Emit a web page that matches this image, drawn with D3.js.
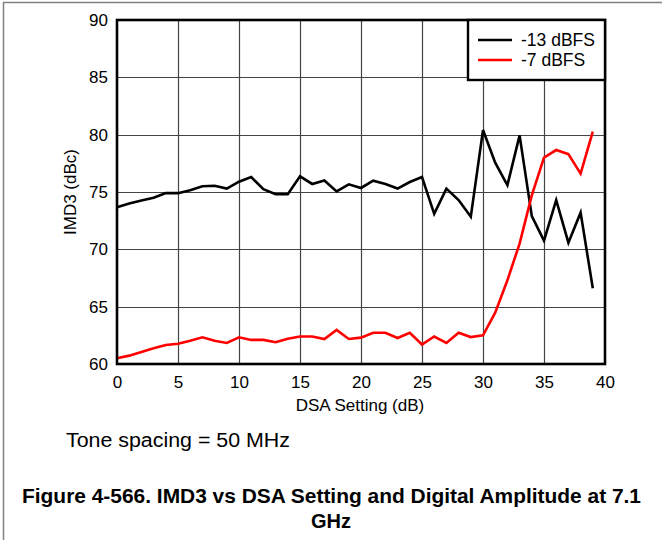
<!DOCTYPE html>
<html>
<head>
<meta charset="utf-8">
<script src="https://cdn.jsdelivr.net/npm/d3@7"></script>
<style>
  body { margin: 0; background: #fff; }
  svg { display: block; }
  text { font-family: "Liberation Sans", Arial, sans-serif; }
</style>
</head>
<body>
<svg id="chart" width="662" height="540"></svg>
<script>
const dsa = d3.range(0, 40);
const seriesNames = ["-13 dBFS", "-7 dBFS"];
const seriesColors = ["#000000", "#ff0000"];
const imd3_m13 = [73.67, 74.0, 74.25, 74.5, 74.9, 74.9, 75.15, 75.5, 75.55, 75.3,
                  75.9, 76.3, 75.25, 74.8, 74.8, 76.37, 75.7, 76.0, 75.05, 75.67,
                  75.35, 75.99, 75.7, 75.3, 75.87, 76.3, 73.1, 75.3, 74.3, 72.85,
                  80.4, 77.56, 75.6, 79.94, 72.9, 70.76, 74.3, 70.58, 73.2, 66.6];
const imd3_m7 = [60.5, 60.73, 61.05, 61.37, 61.66, 61.77, 62.03, 62.33, 62.03, 61.83,
                 62.33, 62.1, 62.1, 61.9, 62.2, 62.4, 62.4, 62.18, 62.97, 62.18,
                 62.3, 62.73, 62.73, 62.27, 62.73, 61.7, 62.4, 61.83, 62.73, 62.35,
                 62.5, 64.48, 67.3, 70.5, 74.7, 78.0, 78.66, 78.3, 76.6, 80.26];
const xTicks = [0, 5, 10, 15, 20, 25, 30, 35, 40];
const yTicks = [60, 65, 70, 75, 80, 85, 90];
const xLabel = "DSA Setting (dB)";
const yLabel = "IMD3 (dBc)";
const note = "Tone spacing = 50 MHz";
const titleLines = ["Figure 4-566. IMD3 vs DSA Setting and Digital Amplitude at 7.1", "GHz"];

const svg = d3.select("#chart");
const L = 117, R = 605, T = 20, B = 364;
const x = d3.scaleLinear().domain([0, 40]).range([L, R]);
const y = d3.scaleLinear().domain([60, 90]).range([B, T]);

// outer frame
svg.append("path").attr("d", "M3.5,540 L3.5,2.5 L662,2.5")
  .attr("fill", "none").attr("stroke", "#808080").attr("stroke-width", 1.5);

// grid
const g = svg.append("g");
g.selectAll(".vg").data(xTicks.slice(1, -1)).join("line")
  .attr("x1", d => Math.round(x(d)) + 0.5).attr("x2", d => Math.round(x(d)) + 0.5)
  .attr("y1", T).attr("y2", B).attr("stroke", "#444").attr("stroke-width", 1.2);
g.selectAll(".hg").data(yTicks.slice(1, -1)).join("line")
  .attr("y1", d => Math.round(y(d)) + 0.5).attr("y2", d => Math.round(y(d)) + 0.5)
  .attr("x1", L).attr("x2", R).attr("stroke", "#444").attr("stroke-width", 1.2);

// axes labels via d3 axes
const xAxis = svg.append("g").attr("transform", `translate(0,${B})`)
  .call(d3.axisBottom(x).tickValues(xTicks).tickSize(0).tickPadding(12));
const yAxis = svg.append("g").attr("transform", `translate(${L},0)`)
  .call(d3.axisLeft(y).tickValues(yTicks).tickSize(0).tickPadding(9));
[xAxis, yAxis].forEach(a => {
  a.select(".domain").remove();
  a.selectAll("text").attr("font-size", 17).attr("fill", "#000")
    .attr("font-family", "'Liberation Sans', Arial, sans-serif");
});

// lines
const line = d3.line().x((d, i) => x(dsa[i])).y(d => y(d));
[imd3_m13, imd3_m7].forEach((s, k) => {
  svg.append("path").datum(s).attr("d", line)
    .attr("fill", "none").attr("stroke", seriesColors[k])
    .attr("stroke-width", 2.6).attr("stroke-linejoin", "miter");
});

// plot frame
svg.append("rect").attr("x", L).attr("y", T).attr("width", R - L).attr("height", B - T)
  .attr("fill", "none").attr("stroke", "#000").attr("stroke-width", 2.6);

// legend
const lg = svg.append("g");
lg.append("rect").attr("x", 468).attr("y", T).attr("width", R - 468).attr("height", 60)
  .attr("fill", "#fff").attr("stroke", "#000").attr("stroke-width", 2.4);
seriesNames.forEach((n, k) => {
  const yy = 40 + k * 20;
  lg.append("line").attr("x1", 478).attr("x2", 512).attr("y1", yy).attr("y2", yy)
    .attr("stroke", seriesColors[k]).attr("stroke-width", 2.6);
  lg.append("text").attr("x", 521).attr("y", yy + 6).attr("font-size", 17.5).text(n);
});

// axis titles
svg.append("text").attr("x", (L + R) / 2 - 1).attr("y", 411).attr("text-anchor", "middle")
  .attr("font-size", 17).text(xLabel);
svg.append("text").attr("transform", `translate(76,${(T + B) / 2}) rotate(-90)`)
  .attr("text-anchor", "middle").attr("font-size", 17).text(yLabel);

// note
svg.append("text").attr("x", 66).attr("y", 447).attr("font-size", 20)
  .attr("textLength", 224).attr("lengthAdjust", "spacingAndGlyphs").text(note);

// title
svg.append("text").attr("x", 22).attr("y", 503).attr("font-size", 20)
  .attr("font-weight", "bold").attr("textLength", 619)
  .attr("lengthAdjust", "spacingAndGlyphs").text(titleLines[0]);
svg.append("text").attr("x", 331).attr("y", 528).attr("text-anchor", "middle")
  .attr("font-size", 20).attr("font-weight", "bold").text(titleLines[1]);
</script>
</body>
</html>
